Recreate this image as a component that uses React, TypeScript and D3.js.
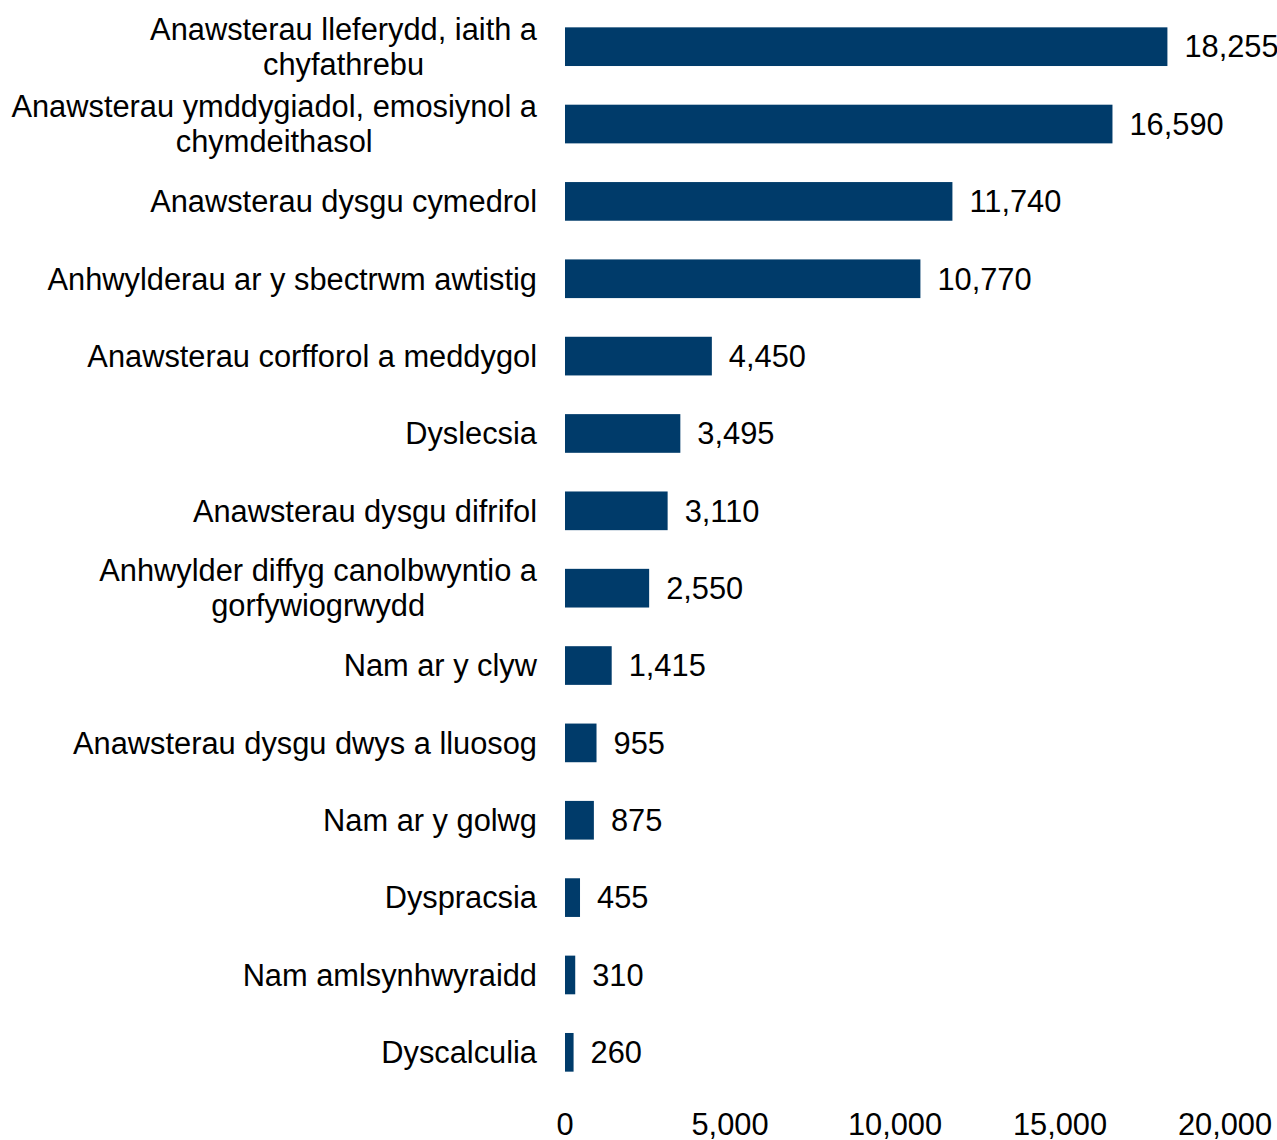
import React from "react";
import * as d3 from "d3";

const categories: string[][] = [
  ["Anawsterau lleferydd, iaith a", "chyfathrebu"],
  ["Anawsterau ymddygiadol, emosiynol a", "chymdeithasol"],
  ["Anawsterau dysgu cymedrol"],
  ["Anhwylderau ar y sbectrwm awtistig"],
  ["Anawsterau corfforol a meddygol"],
  ["Dyslecsia"],
  ["Anawsterau dysgu difrifol"],
  ["Anhwylder diffyg canolbwyntio a", "gorfywiogrwydd"],
  ["Nam ar y clyw"],
  ["Anawsterau dysgu dwys a lluosog"],
  ["Nam ar y golwg"],
  ["Dyspracsia"],
  ["Nam amlsynhwyraidd"],
  ["Dyscalculia"],
];
const values: number[] = [18255, 16590, 11740, 10770, 4450, 3495, 3110, 2550, 1415, 955, 875, 455, 310, 260];
const ticks: number[] = [0, 5000, 10000, 15000, 20000];

const W = 1277;
const H = 1140;
const FS = 30.8;
const FONT = "'Liberation Sans', Arial, sans-serif";
const COLOR = "#003B6A";

let ctx: CanvasRenderingContext2D | null = null;
function measure(s: string): number {
  if (!ctx && typeof document !== "undefined") {
    ctx = document.createElement("canvas").getContext("2d");
  }
  if (!ctx) return s.length * FS * 0.5;
  ctx.font = `${FS}px 'Liberation Sans', Arial, sans-serif`;
  return ctx.measureText(s).width;
}

export default function App() {
  const x = d3.scaleLinear().domain([0, 20000]).range([565, 1225]);
  const ids = categories.map((_, i) => String(i));
  const y = d3
    .scaleBand<string>()
    .domain(ids)
    .range([8, 1091])
    .paddingInner(0.5)
    .paddingOuter(0.25);
  const fmt = d3.format(",");
  const lineH = 35;
  const labelRight = 537;

  return (
    <svg
      width={W}
      height={H}
      style={{ position: "absolute", left: 0, top: 0, display: "block" }}
      fontFamily={FONT}
    >
      <rect width={W} height={H} fill="#ffffff" />
      {values.map((v, i) => {
        const yb = y(String(i))!;
        const bw = y.bandwidth();
        const cy = yb + bw / 2;
        const lines = categories[i];
        const startY = cy - ((lines.length - 1) * lineH) / 2;
        const blockW = Math.max(...lines.map(measure));
        const centerX = labelRight - blockW / 2;
        return (
          <g key={i}>
            <rect x={x(0)} y={yb} width={x(v) - x(0)} height={bw} fill={COLOR} />
            <text x={x(v) + 17} y={cy} dy="0.35em" fontSize={FS} fill="#000">
              {fmt(v)}
            </text>
            {lines.map((l, j) => (
              <text
                key={j}
                x={lines.length > 1 ? centerX : labelRight}
                y={startY + j * lineH}
                dy="0.35em"
                textAnchor={lines.length > 1 ? "middle" : "end"}
                fontSize={FS}
                fill="#000"
              >
                {l}
              </text>
            ))}
          </g>
        );
      })}
      {ticks.map((t) => (
        <text
          key={t}
          x={x(t)}
          y={1135}
          textAnchor="middle"
          fontSize={FS}
          fill="#000"
        >
          {fmt(t)}
        </text>
      ))}
    </svg>
  );
}
